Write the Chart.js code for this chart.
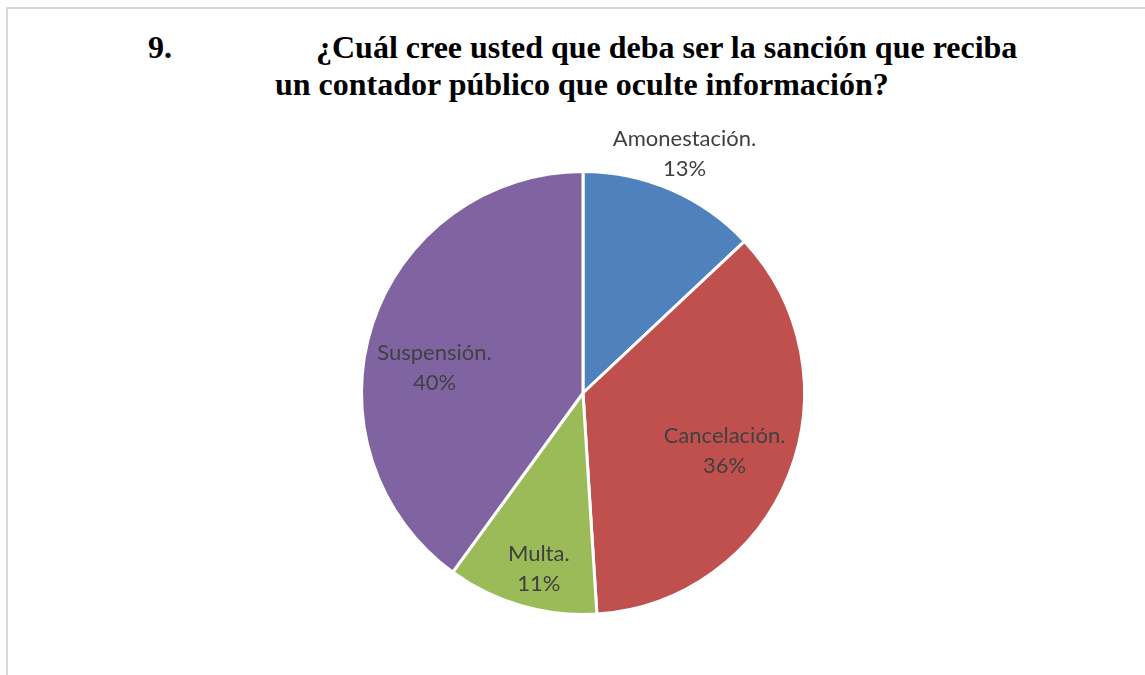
<!DOCTYPE html>
<html>
<head>
<meta charset="utf-8">
<script src="https://cdn.jsdelivr.net/npm/chart.js@4.4.1/dist/chart.umd.min.js"></script>
<style>
  html, body { margin: 0; padding: 0; background: #ffffff; }
  #wrap { position: relative; width: 1145px; height: 675px; overflow: hidden; }
  #frame { position: absolute; left: 6px; top: 7px; width: 1200px; height: 700px;
           border-left: 2px solid #d9d9d9; border-top: 2px solid #d9d9d9; }
  .t { position: absolute; font-family: "Liberation Serif", "Times New Roman", serif;
       font-weight: bold; font-size: 32px; color: #000; white-space: nowrap; line-height: 1; }
  canvas { position: absolute; left: 0; top: 0; }
</style>
</head>
<body>
<div id="wrap">
  <div id="frame"></div>
  <div class="t" style="left:148px; top:31px;">9.</div>
  <div class="t" style="left:316px; top:31px;">¿Cuál cree usted que deba ser la sanción que reciba</div>
  <div class="t" style="left:275px; top:68px;">un contador público que oculte información?</div>
  <canvas id="c" width="1145" height="675"></canvas>
</div>
<script>
const categories = ["Amonestación.", "Cancelación.", "Multa.", "Suspensión."];
const percentages = [13, 36, 11, 40];
const colors = ["#4F81BD", "#C0504D", "#9BBB59", "#8064A2"];

const labelPlugin = {
  id: 'sliceLabels',
  afterDatasetsDraw(chart, args, opts) {
    const ctx = chart.ctx;
    const meta = chart.getDatasetMeta(0);
    ctx.save();
    ctx.font = opts.font;
    ctx.fillStyle = opts.color;
    ctx.textAlign = 'center';
    ctx.textBaseline = 'middle';
    meta.data.forEach((arc, i) => {
      const p = arc.getProps(['x', 'y', 'startAngle', 'endAngle', 'outerRadius'], true);
      const place = opts.placement[i];
      const a = (p.startAngle + p.endAngle) / 2 + place.dAngle * Math.PI / 180;
      const r = p.outerRadius * place.radial;
      const cx = p.x + Math.cos(a) * r;
      const cy = p.y + Math.sin(a) * r;
      const lines = [categories[i], percentages[i] + '%'];
      const lh = opts.lineHeight;
      lines.forEach((ln, k) => {
        ctx.fillText(ln, cx, cy + (k - (lines.length - 1) / 2) * lh);
      });
    });
    ctx.restore();
  }
};

new Chart(document.getElementById('c'), {
  type: 'pie',
  data: {
    labels: categories,
    datasets: [{
      data: percentages,
      backgroundColor: colors,
      borderColor: '#ffffff',
      borderWidth: 3,
      hoverOffset: 0,
      offset: 0
    }]
  },
  options: {
    responsive: false,
    animation: false,
    rotation: 0,
    layout: { padding: { top: 170, bottom: 59, left: 360, right: 339 } },
    plugins: {
      legend: { display: false },
      tooltip: { enabled: false },
      title: { display: false },
      sliceLabels: {
        font: '22px Lato, "Open Sans", sans-serif',
        color: '#404040',
        lineHeight: 30,
        placement: [
          { radial: 1.173, dAngle: -0.4 },
          { radial: 0.69, dAngle: 0.6 },
          { radial: 0.82, dAngle: -2.1 },
          { radial: 0.68, dAngle: -8.4 }
        ]
      }
    }
  },
  plugins: [labelPlugin]
});
</script>
</body>
</html>
